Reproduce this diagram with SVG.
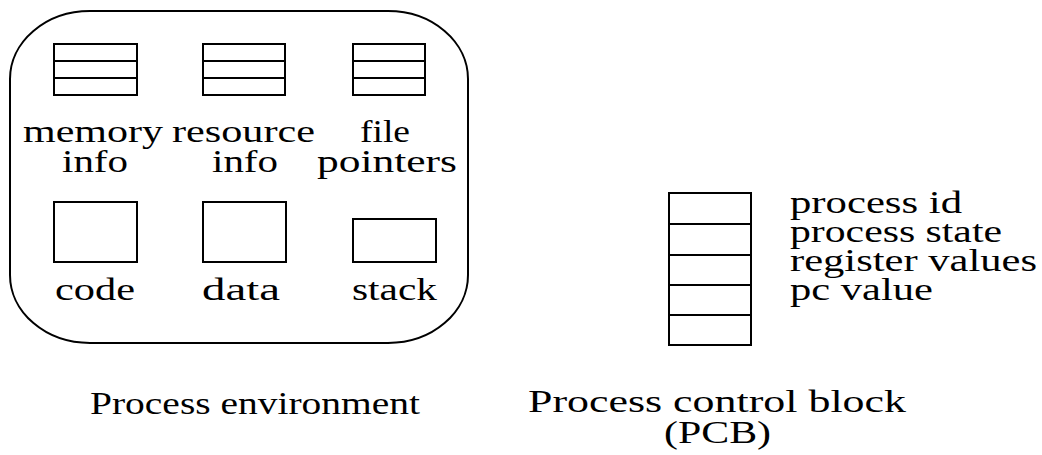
<svg xmlns="http://www.w3.org/2000/svg" width="1042" height="455" viewBox="0 0 1042 455">
  <style>
    .box { fill: none; stroke: #000; stroke-width: 2; }
    .row { stroke: #000; stroke-width: 2; }
    .lbl { font-family: "Liberation Serif", "Times New Roman", serif; font-size: 32px; fill: #000; }
  </style>
  <rect width="1042" height="455" fill="#fff"/>

  <!-- Process environment -->
  <g id="environment">
    <rect class="box" x="10" y="11" width="458" height="332" rx="80" ry="68"/>
  </g>

  <g id="memory-info">
    <rect class="box" x="54" y="44" width="83" height="51"/>
    <line class="row" x1="54" y1="61" x2="137" y2="61"/>
    <line class="row" x1="54" y1="78" x2="137" y2="78"/>
    <text class="lbl" x="23" y="142" textLength="140" lengthAdjust="spacingAndGlyphs">memory</text>
    <text class="lbl" x="62" y="172" textLength="66" lengthAdjust="spacingAndGlyphs">info</text>
  </g>

  <g id="resource-info">
    <rect class="box" x="203" y="44" width="82" height="51"/>
    <line class="row" x1="203" y1="61" x2="285" y2="61"/>
    <line class="row" x1="203" y1="78" x2="285" y2="78"/>
    <text class="lbl" x="172" y="142" textLength="143" lengthAdjust="spacingAndGlyphs">resource</text>
    <text class="lbl" x="212" y="172" textLength="66" lengthAdjust="spacingAndGlyphs">info</text>
  </g>

  <g id="file-pointers">
    <rect class="box" x="353" y="44" width="72" height="51"/>
    <line class="row" x1="353" y1="61" x2="425" y2="61"/>
    <line class="row" x1="353" y1="78" x2="425" y2="78"/>
    <text class="lbl" x="360" y="142" textLength="50" lengthAdjust="spacingAndGlyphs">file</text>
    <text class="lbl" x="317" y="172" textLength="140" lengthAdjust="spacingAndGlyphs">pointers</text>
  </g>

  <g id="code">
    <rect class="box" x="54" y="202" width="83" height="60"/>
    <text class="lbl" x="55" y="300" textLength="80" lengthAdjust="spacingAndGlyphs">code</text>
  </g>

  <g id="data">
    <rect class="box" x="203" y="202" width="83" height="60"/>
    <text class="lbl" x="202" y="300" textLength="78" lengthAdjust="spacingAndGlyphs">data</text>
  </g>

  <g id="stack">
    <rect class="box" x="353" y="219" width="83" height="43"/>
    <text class="lbl" x="352" y="300" textLength="85" lengthAdjust="spacingAndGlyphs">stack</text>
  </g>

  <!-- Process control block -->
  <g id="pcb">
    <rect class="box" x="669" y="193" width="82" height="152"/>
    <line class="row" x1="669" y1="224" x2="751" y2="224"/>
    <line class="row" x1="669" y1="255" x2="751" y2="255"/>
    <line class="row" x1="669" y1="285" x2="751" y2="285"/>
    <line class="row" x1="669" y1="315" x2="751" y2="315"/>
    <text class="lbl" x="790" y="213" textLength="172" lengthAdjust="spacingAndGlyphs">process id</text>
    <text class="lbl" x="790" y="242" textLength="212" lengthAdjust="spacingAndGlyphs">process state</text>
    <text class="lbl" x="790" y="271" textLength="247" lengthAdjust="spacingAndGlyphs">register values</text>
    <text class="lbl" x="790" y="300" textLength="143" lengthAdjust="spacingAndGlyphs">pc value</text>
  </g>

  <!-- Captions -->
  <g id="captions">
    <text class="lbl" x="90" y="414" textLength="330" lengthAdjust="spacingAndGlyphs">Process environment</text>
    <text class="lbl" x="528" y="412" textLength="378" lengthAdjust="spacingAndGlyphs">Process control block</text>
    <text class="lbl" x="664" y="443" textLength="107" lengthAdjust="spacingAndGlyphs">(PCB)</text>
  </g>

  <g id="connectors"/>
</svg>
